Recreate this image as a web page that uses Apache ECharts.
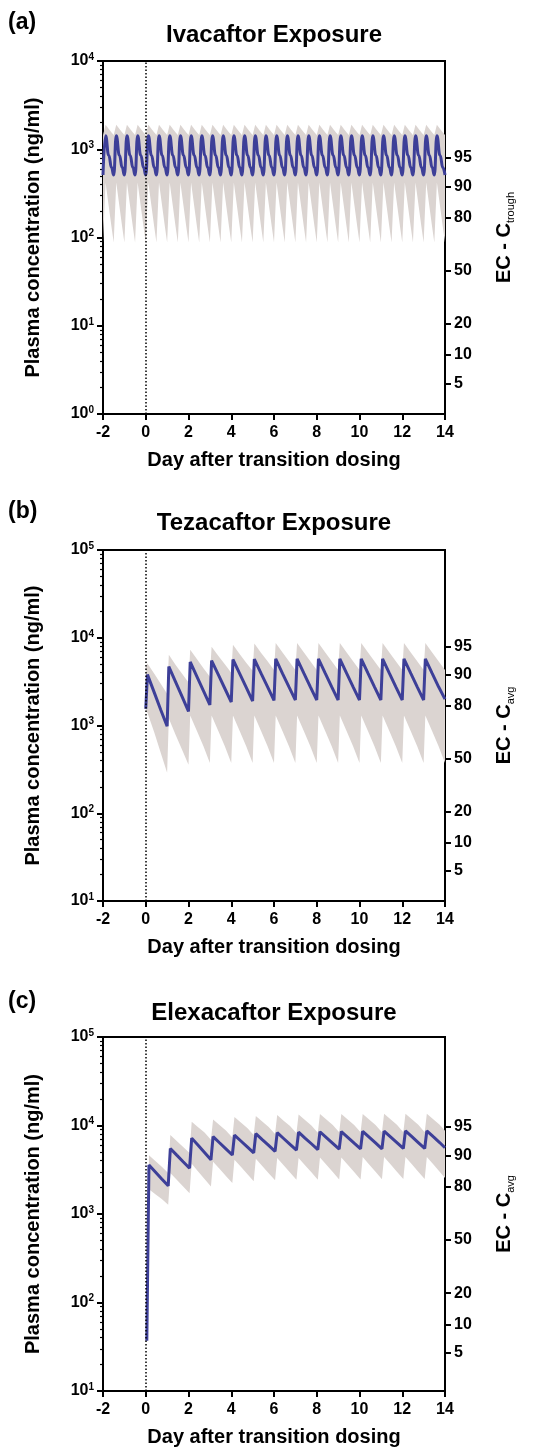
<!DOCTYPE html>
<html><head><meta charset="utf-8">
<script src="https://cdn.jsdelivr.net/npm/echarts@6/dist/echarts.min.js"></script>
<style>html,body{margin:0;padding:0;background:#fff}#c{width:540px;height:1448px}</style>
</head><body><div id="c"></div>
<script>
const FONT = '"Liberation Sans", Arial, Helvetica, sans-serif';
const BLUE = '#3d3f98';
const GRAY = '#dbd4d1';

// ---------- shared axis data ----------
const dayTicks = [-2, 0, 2, 4, 6, 8, 10, 12, 14];
const ecLevels = [5, 10, 20, 50, 80, 90, 95];      // right-axis EC labels (%)
const ec50Values = [42, 420, 510];                 // ng/ml at EC50 for (a),(b),(c)
const minorMultipliers = [2, 3, 4, 5, 6, 7, 8, 9]; // log minor ticks inside each decade
const panelTitles = ['Ivacaftor Exposure', 'Tezacaftor Exposure', 'Elexacaftor Exposure'];
const panelLetters = ['(a)', '(b)', '(c)'];
const ecSubscripts = ['trough', 'avg', 'avg'];

// ---------- (a) Ivacaftor ----------
const tA = [-2,-1.88,-1.73,-1.6, -1.5,-1.38,-1.23,-1.1, -1,-0.88,-0.73,-0.6, -0.5,-0.38,-0.23,-0.1,
 0,0.12,0.27,0.4, 0.5,0.62,0.77,0.9, 1,1.12,1.27,1.4, 1.5,1.62,1.77,1.9,
 2,2.12,2.27,2.4, 2.5,2.62,2.77,2.9, 3,3.12,3.27,3.4, 3.5,3.62,3.77,3.9,
 4,4.12,4.27,4.4, 4.5,4.62,4.77,4.9, 5,5.12,5.27,5.4, 5.5,5.62,5.77,5.9,
 6,6.12,6.27,6.4, 6.5,6.62,6.77,6.9, 7,7.12,7.27,7.4, 7.5,7.62,7.77,7.9,
 8,8.12,8.27,8.4, 8.5,8.62,8.77,8.9, 9,9.12,9.27,9.4, 9.5,9.62,9.77,9.9,
 10,10.12,10.27,10.4, 10.5,10.62,10.77,10.9, 11,11.12,11.27,11.4, 11.5,11.62,11.77,11.9,
 12,12.12,12.27,12.4, 12.5,12.62,12.77,12.9, 13,13.12,13.27,13.4, 13.5,13.62,13.77,13.9, 14];
const medA = [510,1420,850,620, 510,1420,850,620, 510,1420,850,620, 510,1420,850,620,
 510,1420,850,620, 510,1420,850,620, 510,1420,850,620, 510,1420,850,620,
 510,1420,850,620, 510,1420,850,620, 510,1420,850,620, 510,1420,850,620,
 510,1420,850,620, 510,1420,850,620, 510,1420,850,620, 510,1420,850,620,
 510,1420,850,620, 510,1420,850,620, 510,1420,850,620, 510,1420,850,620,
 510,1420,850,620, 510,1420,850,620, 510,1420,850,620, 510,1420,850,620,
 510,1420,850,620, 510,1420,850,620, 510,1420,850,620, 510,1420,850,620,
 510,1420,850,620, 510,1420,850,620, 510,1420,850,620, 510,1420,850,620, 510];
const loA = [88,420,224,131, 88,420,224,131, 88,420,224,131, 88,420,224,131,
 88,420,224,131, 88,420,224,131, 88,420,224,131, 88,420,224,131,
 88,420,224,131, 88,420,224,131, 88,420,224,131, 88,420,224,131,
 88,420,224,131, 88,420,224,131, 88,420,224,131, 88,420,224,131,
 88,420,224,131, 88,420,224,131, 88,420,224,131, 88,420,224,131,
 88,420,224,131, 88,420,224,131, 88,420,224,131, 88,420,224,131,
 88,420,224,131, 88,420,224,131, 88,420,224,131, 88,420,224,131,
 88,420,224,131, 88,420,224,131, 88,420,224,131, 88,420,224,131, 88];
const hiA = [1450,1900,1700,1550, 1450,1900,1700,1550, 1450,1900,1700,1550, 1450,1900,1700,1550,
 1450,1900,1700,1550, 1450,1900,1700,1550, 1450,1900,1700,1550, 1450,1900,1700,1550,
 1450,1900,1700,1550, 1450,1900,1700,1550, 1450,1900,1700,1550, 1450,1900,1700,1550,
 1450,1900,1700,1550, 1450,1900,1700,1550, 1450,1900,1700,1550, 1450,1900,1700,1550,
 1450,1900,1700,1550, 1450,1900,1700,1550, 1450,1900,1700,1550, 1450,1900,1700,1550,
 1450,1900,1700,1550, 1450,1900,1700,1550, 1450,1900,1700,1550, 1450,1900,1700,1550,
 1450,1900,1700,1550, 1450,1900,1700,1550, 1450,1900,1700,1550, 1450,1900,1700,1550,
 1450,1900,1700,1550, 1450,1900,1700,1550, 1450,1900,1700,1550, 1450,1900,1700,1550, 1450];

// ---------- (b) Tezacaftor ----------
const tB = [0,0.08,0.4,0.7, 1,1.08,1.4,1.7, 2,2.08,2.4,2.7, 3,3.08,3.4,3.7, 4,4.08,4.4,4.7,
 5,5.08,5.4,5.7, 6,6.08,6.4,6.7, 7,7.08,7.4,7.7, 8,8.08,8.4,8.7, 9,9.08,9.4,9.7,
 10,10.08,10.4,10.7, 11,11.08,11.4,11.7, 12,12.08,12.4,12.7, 13,13.08,13.4,13.7, 14];
const medB = [1550,3800,2370,1510, 980,4700,3120,2130, 1450,5300,3580,2480, 1720,5500,3770,2640,
 1850,5650,3870,2720, 1900,5700,3900,2750, 1930,5750,3900,2750, 1950,5750,3920,2760,
 1950,5750,3920,2760, 1950,5750,3920,2760, 1950,5750,3920,2760, 1950,5750,3920,2760,
 1950,5750,3920,2760, 1950,5750,3920,2760, 2000];
const loB = [1450,1400,830,490, 290,1200,780,530, 357,1300,860,580, 373,1300,860,580,
 373,1300,860,580, 373,1300,860,580, 373,1300,860,580, 373,1300,860,580,
 373,1300,860,580, 373,1300,860,580, 373,1300,860,580, 373,1300,860,580,
 373,1300,860,580, 373,1300,860,580, 373];
const hiB = [4800,5100,3900,3000, 2300,6400,4900,3900, 3100,7300,5700,4500, 3600,7900,6200,5000,
 4000,8300,6500,5200, 4200,8600,6700,5400, 4300,8700,6800,5400, 4300,8700,6800,5400,
 4300,8700,6800,5400, 4300,8700,6800,5400, 4300,8700,6800,5400, 4300,8700,6800,5400,
 4300,8700,6800,5400, 4300,8700,6800,5400, 4300];

// ---------- (c) Elexacaftor ----------
const tC = [0.05,0.15,0.45,0.75, 1.05,1.15,1.45,1.75, 2.05,2.15,2.45,2.75, 3.05,3.15,3.45,3.75,
 4.05,4.15,4.45,4.75, 5.05,5.15,5.45,5.75, 6.05,6.15,6.45,6.75, 7.05,7.15,7.45,7.75,
 8.05,8.15,8.45,8.75, 9.05,9.15,9.45,9.75, 10.05,10.15,10.45,10.75, 11.05,11.15,11.45,11.75,
 12.05,12.15,12.45,12.75, 13.05,13.15,13.45,13.75, 14];
const medC = [37,3580,2990,2490, 2080,5500,4630,3900, 3290,7200,5970,4950, 4100,7500,6390,5450,
 4640,7800,6680,5720, 4900,8100,6940,5950, 5100,8300,7130,6120, 5260,8400,7220,6220,
 5350,8500,7310,6290, 5400,8550,7360,6330, 5450,8600,7390,6350, 5450,8650,7440,6400,
 5500,8700,7470,6410, 5500,8700,7470,6420, 5600];
const tCband = [0.15,0.45,0.75, 1.05,1.15,1.45,1.75, 2.05,2.15,2.45,2.75, 3.05,3.15,3.45,3.75,
 4.05,4.15,4.45,4.75, 5.05,5.15,5.45,5.75, 6.05,6.15,6.45,6.75, 7.05,7.15,7.45,7.75,
 8.05,8.15,8.45,8.75, 9.05,9.15,9.45,9.75, 10.05,10.15,10.45,10.75, 11.05,11.15,11.45,11.75,
 12.05,12.15,12.45,12.75, 13.05,13.15,13.45,13.75, 14];
const loC = [1900,1675,1475, 1270,2900,2440,2050, 1720,3700,3030,2490, 2040,3900,3240,2690,
 2240,4100,3410,2830, 2350,4200,3480,2890, 2400,4300,3560,2950, 2430,4300,3560,2960,
 2430,4350,3590,2980, 2450,4350,3600,2990, 2450,4400,3630,3000, 2470,4400,3640,3010,
 2480,4400,3640,3010, 2480,4400,3640,3010, 2550];
const hiC = [4600,3970,3430, 2900,7800,6680,5720, 4900,11000,9550,8310, 6900,11700,10150,8800,
 7300,12500,10840,9400, 7800,12800,11100,9630, 8000,13100,11350,9850, 8200,13300,11530,10000,
 8300,13500,11700,10150, 8400,13500,11700,10150, 8400,13500,11700,10150, 8400,13600,11780,10200,
 8400,13600,11780,10200, 8400,13600,11780,10200, 8700];

// ---------- layout ----------
const panels = [
  {top: 61,   height: 353, yMin: 1,  yMax: 1e4, t: tA, med: medA, tb: tA,     lo: loA, hi: hiA, smooth: 0.5},
  {top: 550,  height: 351, yMin: 10, yMax: 1e5, t: tB, med: medB, tb: tB,     lo: loB, hi: hiB, smooth: false},
  {top: 1037, height: 355, yMin: 10, yMax: 1e5, t: tC, med: medC, tb: tCband, lo: loC, hi: hiC, smooth: false}
];
const GL = 103, GW = 342;

const grids = [], xAxes = [], yAxes = [], series = [], graphics = [];
const zip = (xs, ys) => xs.map((x, i) => [x, ys[i]]);
const bold = {color: '#000', fontWeight: 'bold', fontFamily: FONT};

panels.forEach((p, i) => {
  grids.push({left: GL, top: p.top, width: GW, height: p.height, show: true,
    borderColor: '#000', borderWidth: 2, backgroundColor: 'transparent'});
  xAxes.push({gridIndex: i, type: 'value', min: -2, max: 14, interval: 2, position: 'bottom',
    axisLine: {onZero: false, lineStyle: {color: '#000', width: 2}},
    axisTick: {show: true, length: 6, lineStyle: {color: '#000', width: 2}},
    axisLabel: Object.assign({fontSize: 16, margin: 11}, bold),
    splitLine: {show: false},
    name: 'Day after transition dosing', nameLocation: 'middle', nameGap: 36,
    nameTextStyle: Object.assign({fontSize: 20}, bold)});
  // main left log axis (data axis)
  yAxes.push({gridIndex: i, type: 'log', logBase: 10, min: p.yMin, max: p.yMax, position: 'left',
    axisLine: {show: true, onZero: false, lineStyle: {color: '#000', width: 2}},
    axisTick: {show: true, length: 6, lineStyle: {color: '#000', width: 2}},
    minorTick: {show: false}, splitLine: {show: false}, minorSplitLine: {show: false},
    axisLabel: {margin: 9, formatter: v => '{b|10}{e|' + Math.round(Math.log10(v)) + '}',
      rich: {b: Object.assign({fontSize: 16, lineHeight: 18}, bold),
             e: Object.assign({fontSize: 10, lineHeight: 10, verticalAlign: 'top'}, bold)}},
    name: 'Plasma concentration (ng/ml)', nameLocation: 'middle', nameGap: 60, nameRotate: 90,
    nameTextStyle: Object.assign({fontSize: 20}, bold)});
  // right EC axis (log10 space)
  const ec50 = ec50Values[i];
  const ecPos = ecLevels.map(q => Math.log10(ec50 * q / (100 - q)));
  const lmin = Math.log10(p.yMin), lmax = Math.log10(p.yMax);
  yAxes.push({gridIndex: i, type: 'value', position: 'right', min: lmin, max: lmax,
    axisLine: {show: true, onZero: false, lineStyle: {color: '#000', width: 2}},
    axisTick: {show: true, length: 6, customValues: ecPos, lineStyle: {color: '#000', width: 2}},
    splitLine: {show: false},
    axisLabel: Object.assign({fontSize: 16, margin: 9, customValues: ecPos,
      formatter: v => String(Math.round(100 * Math.pow(10, v) / (Math.pow(10, v) + ec50)))}, bold),
    name: '{m|EC - C}{s|' + ecSubscripts[i] + '}', nameLocation: 'middle', nameGap: 47, nameRotate: 90,
    nameTextStyle: {rich: {m: Object.assign({fontSize: 20, lineHeight: 24}, bold),
                           s: {fontSize: 11, lineHeight: 12, verticalAlign: 'bottom', color: '#000', fontFamily: FONT}}}});
  // left minor ticks (log10 space)
  const minorPos = [];
  for (let e = lmin; e < lmax; e++) minorMultipliers.forEach(m => minorPos.push(e + Math.log10(m)));
  yAxes.push({gridIndex: i, type: 'value', position: 'left', min: lmin, max: lmax,
    axisLine: {show: false, onZero: false},
    axisTick: {show: true, length: 3, customValues: minorPos, lineStyle: {color: '#000', width: 1.2}},
    axisLabel: {show: false, customValues: minorPos}, splitLine: {show: false}});

  const yi = 3 * i;
  const band = p.tb.map((t, k) => [t, p.lo[k], p.hi[k]]);
  series.push({type: 'custom', coordinateSystem: 'cartesian2d', xAxisIndex: i, yAxisIndex: yi,
    silent: true, z: 1, data: band, encode: {x: 0, y: [1, 2]},
    renderItem: (params, api) => {
      if (params.dataIndex !== 0) return null;
      const pts = [];
      for (let k = 0; k < band.length; k++) pts.push(api.coord([band[k][0], band[k][1]]));
      for (let k = band.length - 1; k >= 0; k--) pts.push(api.coord([band[k][0], band[k][2]]));
      return {type: 'polygon', shape: {points: pts}, style: {fill: GRAY, stroke: null}};
    }});
  series.push({type: 'line', xAxisIndex: i, yAxisIndex: yi, data: zip(p.t, p.med),
    symbol: 'none', smooth: p.smooth, smoothMonotone: 'x', silent: true, z: 3,
    lineStyle: {color: BLUE, width: 3},
    markLine: {silent: true, symbol: ['none', 'none'], label: {show: false}, z: 4,
      lineStyle: {type: [1.5, 2], color: '#000', width: 1.5}, data: [{xAxis: 0}]}});

  const cx = GL + GW / 2;
  const titleY = [35, 523, 1013][i];
  const letterY = [23, 512, 1002][i];
  graphics.push({type: 'text', x: cx, y: titleY,
    style: {text: panelTitles[i], font: 'bold 24px ' + FONT, fill: '#000', textAlign: 'center', textVerticalAlign: 'middle'}});
  graphics.push({type: 'text', x: 8, y: letterY,
    style: {text: panelLetters[i], font: 'bold 23px ' + FONT, fill: '#000', textAlign: 'left', textVerticalAlign: 'middle'}});
});

const chart = echarts.init(document.getElementById('c'), null, {renderer: 'canvas'});
chart.setOption({
  animation: false,
  backgroundColor: '#fff',
  grid: grids, xAxis: xAxes, yAxis: yAxes, series: series, graphic: graphics
});
</script></body></html>
